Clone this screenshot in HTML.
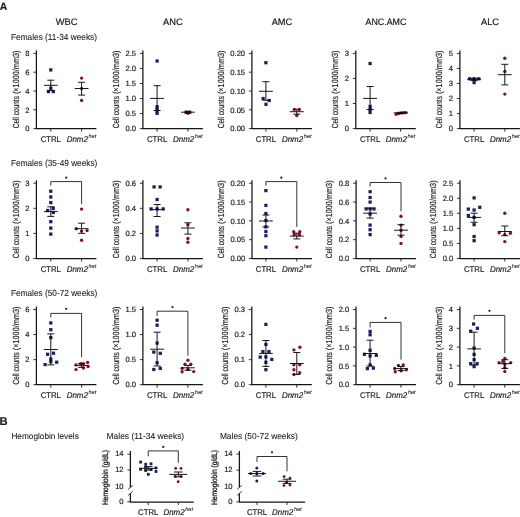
<!DOCTYPE html>
<html><head><meta charset="utf-8"><style>
html,body{margin:0;padding:0;background:#fff;}
svg{display:block;will-change:transform;filter:blur(0.3px);}
text{font-family:"Liberation Sans", sans-serif;text-rendering:geometricPrecision;stroke:#1c1c1c;stroke-width:0.18px;}
</style></head><body>
<svg width="520" height="517" viewBox="0 0 520 517" font-family='"Liberation Sans", sans-serif'>
<rect width="520" height="517" fill="#fff"/>
<text x="-0.3" y="9.6" font-size="10.4" text-anchor="start" font-weight="bold" fill="#1c1c1c">A</text>
<text x="-0.4" y="425.3" font-size="11.2" text-anchor="start" font-weight="bold" fill="#1c1c1c">B</text>
<text x="66.6" y="24.8" font-size="9.3" text-anchor="middle" fill="#1c1c1c">WBC</text>
<text x="172.9" y="24.8" font-size="9.3" text-anchor="middle" fill="#1c1c1c">ANC</text>
<text x="282.0" y="24.8" font-size="9.3" text-anchor="middle" fill="#1c1c1c">AMC</text>
<text x="385.9" y="24.8" font-size="9.3" text-anchor="middle" fill="#1c1c1c" textLength="40.8" lengthAdjust="spacingAndGlyphs">ANC.AMC</text>
<text x="490.0" y="24.8" font-size="9.3" text-anchor="middle" fill="#1c1c1c">ALC</text>
<text x="11" y="40.4" font-size="8.8" text-anchor="start" fill="#1c1c1c" textLength="86" lengthAdjust="spacingAndGlyphs" style="stroke-width:0.08px">Females (11-34 weeks)</text>
<text x="11" y="166.4" font-size="8.8" text-anchor="start" fill="#1c1c1c" textLength="86.3" lengthAdjust="spacingAndGlyphs" style="stroke-width:0.08px">Females (35-49 weeks)</text>
<text x="11" y="296.2" font-size="8.8" text-anchor="start" fill="#1c1c1c" textLength="86.3" lengthAdjust="spacingAndGlyphs" style="stroke-width:0.08px">Females (50-72 weeks)</text>
<text x="11.4" y="438.7" font-size="8.6" text-anchor="start" fill="#1c1c1c" textLength="67.4" lengthAdjust="spacingAndGlyphs" style="stroke-width:0.08px">Hemoglobin levels</text>
<text x="106.6" y="438.7" font-size="8.7" text-anchor="start" fill="#1c1c1c" textLength="77.6" lengthAdjust="spacingAndGlyphs" style="stroke-width:0.08px">Males (11-34 weeks)</text>
<text x="219.9" y="438.7" font-size="8.7" text-anchor="start" fill="#1c1c1c" textLength="77.8" lengthAdjust="spacingAndGlyphs" style="stroke-width:0.08px">Males (50-72 weeks)</text>
<path d="M36.4,50.5V128.6" stroke="#151515" stroke-width="1.25" fill="none"/>
<path d="M35.85,128.6H96.4" stroke="#151515" stroke-width="1.25" fill="none"/>
<path d="M33.4,128.60H36.4" stroke="#1c1c1c" stroke-width="0.9"/>
<text x="29.60" y="131.30" font-size="7.6" text-anchor="end" fill="#1c1c1c">0</text>
<path d="M33.4,109.80H36.4" stroke="#1c1c1c" stroke-width="0.9"/>
<text x="29.60" y="112.50" font-size="7.6" text-anchor="end" fill="#1c1c1c">2</text>
<path d="M33.4,91.00H36.4" stroke="#1c1c1c" stroke-width="0.9"/>
<text x="29.60" y="93.70" font-size="7.6" text-anchor="end" fill="#1c1c1c">4</text>
<path d="M33.4,72.20H36.4" stroke="#1c1c1c" stroke-width="0.9"/>
<text x="29.60" y="74.90" font-size="7.6" text-anchor="end" fill="#1c1c1c">6</text>
<path d="M33.4,53.40H36.4" stroke="#1c1c1c" stroke-width="0.9"/>
<text x="29.60" y="56.10" font-size="7.6" text-anchor="end" fill="#1c1c1c">8</text>
<path d="M50.8,128.6V131.6" stroke="#1c1c1c" stroke-width="0.9"/>
<path d="M81.6,128.6V131.6" stroke="#1c1c1c" stroke-width="0.9"/>
<g transform="translate(18.67,128.30) rotate(-90)" font-size="8.8" fill="#1c1c1c" style="stroke-width:0.3px"><text x="0" y="0" textLength="32.2" lengthAdjust="spacingAndGlyphs">Cell counts</text><text x="34.20" y="0" textLength="43.6" lengthAdjust="spacingAndGlyphs">(×1000/mm3)</text></g>
<text x="50.80" y="141.60" font-size="8.4" text-anchor="middle" textLength="20.2" lengthAdjust="spacingAndGlyphs" fill="#1c1c1c">CTRL</text>
<text x="66.70" y="141.60" font-size="8.4" font-style="italic" textLength="21.2" lengthAdjust="spacingAndGlyphs" fill="#1c1c1c">Dnm2</text>
<text x="88.50" y="137.90" font-size="5.6" font-style="italic" fill="#1c1c1c" style="stroke-width:0.05px">het</text>
<rect x="49.17" y="68.28" width="3.25" height="3.25" fill="#182060"/>
<rect x="49.17" y="86.58" width="3.25" height="3.25" fill="#182060"/>
<rect x="46.77" y="89.97" width="3.25" height="3.25" fill="#182060"/>
<rect x="51.67" y="89.97" width="3.25" height="3.25" fill="#182060"/>
<circle cx="81.6" cy="78.1" r="1.68" fill="#801427"/>
<circle cx="81.6" cy="88.5" r="1.68" fill="#801427"/>
<circle cx="81.6" cy="100.4" r="1.68" fill="#801427"/>
<path d="M43.9,85.3H57.699999999999996M47.3,80.2H54.3M47.3,90.4H54.3M50.8,80.2V90.4" stroke="#0c0c0c" stroke-width="0.95" fill="none"/>
<path d="M74.69999999999999,88.5H88.5M78.1,82.3H85.1M78.1,95.1H85.1M81.6,82.3V95.1" stroke="#0c0c0c" stroke-width="0.95" fill="none"/>
<path d="M142.9,50.5V128.6" stroke="#151515" stroke-width="1.25" fill="none"/>
<path d="M142.35,128.6H202.9" stroke="#151515" stroke-width="1.25" fill="none"/>
<path d="M139.9,128.60H142.9" stroke="#1c1c1c" stroke-width="0.9"/>
<text x="136.10" y="131.30" font-size="7.6" text-anchor="end" fill="#1c1c1c">0.0</text>
<path d="M139.9,113.56H142.9" stroke="#1c1c1c" stroke-width="0.9"/>
<text x="136.10" y="116.26" font-size="7.6" text-anchor="end" fill="#1c1c1c">0.5</text>
<path d="M139.9,98.52H142.9" stroke="#1c1c1c" stroke-width="0.9"/>
<text x="136.10" y="101.22" font-size="7.6" text-anchor="end" fill="#1c1c1c">1.0</text>
<path d="M139.9,83.48H142.9" stroke="#1c1c1c" stroke-width="0.9"/>
<text x="136.10" y="86.18" font-size="7.6" text-anchor="end" fill="#1c1c1c">1.5</text>
<path d="M139.9,68.44H142.9" stroke="#1c1c1c" stroke-width="0.9"/>
<text x="136.10" y="71.14" font-size="7.6" text-anchor="end" fill="#1c1c1c">2.0</text>
<path d="M139.9,53.40H142.9" stroke="#1c1c1c" stroke-width="0.9"/>
<text x="136.10" y="56.10" font-size="7.6" text-anchor="end" fill="#1c1c1c">2.5</text>
<path d="M157.1,128.6V131.6" stroke="#1c1c1c" stroke-width="0.9"/>
<path d="M187.9,128.6V131.6" stroke="#1c1c1c" stroke-width="0.9"/>
<g transform="translate(118.84,128.30) rotate(-90)" font-size="8.8" fill="#1c1c1c" style="stroke-width:0.3px"><text x="0" y="0" textLength="32.2" lengthAdjust="spacingAndGlyphs">Cell counts</text><text x="34.20" y="0" textLength="43.6" lengthAdjust="spacingAndGlyphs">(×1000/mm3)</text></g>
<text x="157.10" y="141.60" font-size="8.4" text-anchor="middle" textLength="20.2" lengthAdjust="spacingAndGlyphs" fill="#1c1c1c">CTRL</text>
<text x="173.00" y="141.60" font-size="8.4" font-style="italic" textLength="21.2" lengthAdjust="spacingAndGlyphs" fill="#1c1c1c">Dnm2</text>
<text x="194.80" y="137.90" font-size="5.6" font-style="italic" fill="#1c1c1c" style="stroke-width:0.05px">het</text>
<rect x="155.47" y="59.38" width="3.25" height="3.25" fill="#182060"/>
<rect x="155.47" y="105.08" width="3.25" height="3.25" fill="#182060"/>
<rect x="155.47" y="107.58" width="3.25" height="3.25" fill="#182060"/>
<rect x="155.47" y="109.67" width="3.25" height="3.25" fill="#182060"/>
<rect x="155.47" y="111.67" width="3.25" height="3.25" fill="#182060"/>
<circle cx="186.2" cy="112.2" r="1.68" fill="#801427"/>
<circle cx="189.4" cy="112.2" r="1.68" fill="#801427"/>
<circle cx="187.9" cy="113.2" r="1.68" fill="#801427"/>
<path d="M150.2,98.4H164.0M153.6,85.7H160.6M153.6,110.5H160.6M157.1,85.7V110.5" stroke="#0c0c0c" stroke-width="0.95" fill="none"/>
<path d="M181.0,112.2H194.8M184.4,111.2H191.4M184.4,113.2H191.4M187.9,111.2V113.2" stroke="#0c0c0c" stroke-width="0.95" fill="none"/>
<path d="M251.9,50.5V128.6" stroke="#151515" stroke-width="1.25" fill="none"/>
<path d="M251.35,128.6H311.9" stroke="#151515" stroke-width="1.25" fill="none"/>
<path d="M248.9,128.60H251.9" stroke="#1c1c1c" stroke-width="0.9"/>
<text x="245.10" y="131.30" font-size="7.6" text-anchor="end" fill="#1c1c1c">0.00</text>
<path d="M248.9,109.80H251.9" stroke="#1c1c1c" stroke-width="0.9"/>
<text x="245.10" y="112.50" font-size="7.6" text-anchor="end" fill="#1c1c1c">0.05</text>
<path d="M248.9,91.00H251.9" stroke="#1c1c1c" stroke-width="0.9"/>
<text x="245.10" y="93.70" font-size="7.6" text-anchor="end" fill="#1c1c1c">0.10</text>
<path d="M248.9,72.20H251.9" stroke="#1c1c1c" stroke-width="0.9"/>
<text x="245.10" y="74.90" font-size="7.6" text-anchor="end" fill="#1c1c1c">0.15</text>
<path d="M248.9,53.40H251.9" stroke="#1c1c1c" stroke-width="0.9"/>
<text x="245.10" y="56.10" font-size="7.6" text-anchor="end" fill="#1c1c1c">0.20</text>
<path d="M265.9,128.6V131.6" stroke="#1c1c1c" stroke-width="0.9"/>
<path d="M296.8,128.6V131.6" stroke="#1c1c1c" stroke-width="0.9"/>
<g transform="translate(223.61,128.30) rotate(-90)" font-size="8.8" fill="#1c1c1c" style="stroke-width:0.3px"><text x="0" y="0" textLength="32.2" lengthAdjust="spacingAndGlyphs">Cell counts</text><text x="34.20" y="0" textLength="43.6" lengthAdjust="spacingAndGlyphs">(×1000/mm3)</text></g>
<text x="265.90" y="141.60" font-size="8.4" text-anchor="middle" textLength="20.2" lengthAdjust="spacingAndGlyphs" fill="#1c1c1c">CTRL</text>
<text x="281.90" y="141.60" font-size="8.4" font-style="italic" textLength="21.2" lengthAdjust="spacingAndGlyphs" fill="#1c1c1c">Dnm2</text>
<text x="303.70" y="137.90" font-size="5.6" font-style="italic" fill="#1c1c1c" style="stroke-width:0.05px">het</text>
<rect x="264.27" y="61.08" width="3.25" height="3.25" fill="#182060"/>
<rect x="261.48" y="96.88" width="3.25" height="3.25" fill="#182060"/>
<rect x="267.57" y="98.88" width="3.25" height="3.25" fill="#182060"/>
<rect x="264.38" y="102.67" width="3.25" height="3.25" fill="#182060"/>
<circle cx="294.3" cy="109.5" r="1.68" fill="#801427"/>
<circle cx="299.3" cy="109.5" r="1.68" fill="#801427"/>
<circle cx="296.8" cy="115.5" r="1.68" fill="#801427"/>
<path d="M259.0,91.3H272.79999999999995M262.4,81.7H269.4M262.4,100.2H269.4M265.9,81.7V100.2" stroke="#0c0c0c" stroke-width="0.95" fill="none"/>
<path d="M289.90000000000003,111.7H303.7M293.3,109.3H300.3M293.3,114.2H300.3M296.8,109.3V114.2" stroke="#0c0c0c" stroke-width="0.95" fill="none"/>
<path d="M355.8,50.5V128.6" stroke="#151515" stroke-width="1.25" fill="none"/>
<path d="M355.25,128.6H415.8" stroke="#151515" stroke-width="1.25" fill="none"/>
<path d="M352.8,128.60H355.8" stroke="#1c1c1c" stroke-width="0.9"/>
<text x="349.00" y="131.30" font-size="7.6" text-anchor="end" fill="#1c1c1c">0</text>
<path d="M352.8,103.53H355.8" stroke="#1c1c1c" stroke-width="0.9"/>
<text x="349.00" y="106.23" font-size="7.6" text-anchor="end" fill="#1c1c1c">1</text>
<path d="M352.8,78.47H355.8" stroke="#1c1c1c" stroke-width="0.9"/>
<text x="349.00" y="81.17" font-size="7.6" text-anchor="end" fill="#1c1c1c">2</text>
<path d="M352.8,53.40H355.8" stroke="#1c1c1c" stroke-width="0.9"/>
<text x="349.00" y="56.10" font-size="7.6" text-anchor="end" fill="#1c1c1c">3</text>
<path d="M370.1,128.6V131.6" stroke="#1c1c1c" stroke-width="0.9"/>
<path d="M400.6,128.6V131.6" stroke="#1c1c1c" stroke-width="0.9"/>
<g transform="translate(338.07,128.30) rotate(-90)" font-size="8.8" fill="#1c1c1c" style="stroke-width:0.3px"><text x="0" y="0" textLength="32.2" lengthAdjust="spacingAndGlyphs">Cell counts</text><text x="34.20" y="0" textLength="43.6" lengthAdjust="spacingAndGlyphs">(×1000/mm3)</text></g>
<text x="370.10" y="141.60" font-size="8.4" text-anchor="middle" textLength="20.2" lengthAdjust="spacingAndGlyphs" fill="#1c1c1c">CTRL</text>
<text x="385.70" y="141.60" font-size="8.4" font-style="italic" textLength="21.2" lengthAdjust="spacingAndGlyphs" fill="#1c1c1c">Dnm2</text>
<text x="407.50" y="137.90" font-size="5.6" font-style="italic" fill="#1c1c1c" style="stroke-width:0.05px">het</text>
<rect x="368.48" y="61.88" width="3.25" height="3.25" fill="#182060"/>
<rect x="368.48" y="104.78" width="3.25" height="3.25" fill="#182060"/>
<rect x="368.48" y="107.88" width="3.25" height="3.25" fill="#182060"/>
<rect x="368.48" y="110.88" width="3.25" height="3.25" fill="#182060"/>
<circle cx="396.2" cy="114.3" r="1.68" fill="#801427"/>
<circle cx="398.8" cy="113.6" r="1.68" fill="#801427"/>
<circle cx="401.4" cy="113.0" r="1.68" fill="#801427"/>
<circle cx="404.0" cy="112.7" r="1.68" fill="#801427"/>
<circle cx="406.0" cy="112.6" r="1.68" fill="#801427"/>
<path d="M363.20000000000005,98.4H377.0M366.6,86.5H373.6M366.6,109.5H373.6M370.1,86.5V109.5" stroke="#0c0c0c" stroke-width="0.95" fill="none"/>
<path d="M393.70000000000005,112.9H407.5M397.1,112.3H404.1M397.1,113.5H404.1M400.6,112.3V113.5" stroke="#0c0c0c" stroke-width="0.95" fill="none"/>
<path d="M459.9,50.5V128.6" stroke="#151515" stroke-width="1.25" fill="none"/>
<path d="M459.34999999999997,128.6H519.9" stroke="#151515" stroke-width="1.25" fill="none"/>
<path d="M456.9,128.60H459.9" stroke="#1c1c1c" stroke-width="0.9"/>
<text x="453.10" y="131.30" font-size="7.6" text-anchor="end" fill="#1c1c1c">0</text>
<path d="M456.9,113.56H459.9" stroke="#1c1c1c" stroke-width="0.9"/>
<text x="453.10" y="116.26" font-size="7.6" text-anchor="end" fill="#1c1c1c">1</text>
<path d="M456.9,98.52H459.9" stroke="#1c1c1c" stroke-width="0.9"/>
<text x="453.10" y="101.22" font-size="7.6" text-anchor="end" fill="#1c1c1c">2</text>
<path d="M456.9,83.48H459.9" stroke="#1c1c1c" stroke-width="0.9"/>
<text x="453.10" y="86.18" font-size="7.6" text-anchor="end" fill="#1c1c1c">3</text>
<path d="M456.9,68.44H459.9" stroke="#1c1c1c" stroke-width="0.9"/>
<text x="453.10" y="71.14" font-size="7.6" text-anchor="end" fill="#1c1c1c">4</text>
<path d="M456.9,53.40H459.9" stroke="#1c1c1c" stroke-width="0.9"/>
<text x="453.10" y="56.10" font-size="7.6" text-anchor="end" fill="#1c1c1c">5</text>
<path d="M474.1,128.6V131.6" stroke="#1c1c1c" stroke-width="0.9"/>
<path d="M504.8,128.6V131.6" stroke="#1c1c1c" stroke-width="0.9"/>
<g transform="translate(442.17,128.30) rotate(-90)" font-size="8.8" fill="#1c1c1c" style="stroke-width:0.3px"><text x="0" y="0" textLength="32.2" lengthAdjust="spacingAndGlyphs">Cell counts</text><text x="34.20" y="0" textLength="43.6" lengthAdjust="spacingAndGlyphs">(×1000/mm3)</text></g>
<text x="474.10" y="141.60" font-size="8.4" text-anchor="middle" textLength="20.2" lengthAdjust="spacingAndGlyphs" fill="#1c1c1c">CTRL</text>
<text x="489.90" y="141.60" font-size="8.4" font-style="italic" textLength="21.2" lengthAdjust="spacingAndGlyphs" fill="#1c1c1c">Dnm2</text>
<text x="511.70" y="137.90" font-size="5.6" font-style="italic" fill="#1c1c1c" style="stroke-width:0.05px">het</text>
<rect x="467.98" y="77.17" width="3.25" height="3.25" fill="#182060"/>
<rect x="472.48" y="77.17" width="3.25" height="3.25" fill="#182060"/>
<rect x="477.18" y="77.17" width="3.25" height="3.25" fill="#182060"/>
<rect x="472.48" y="80.97" width="3.25" height="3.25" fill="#182060"/>
<circle cx="504.8" cy="58.2" r="1.68" fill="#801427"/>
<circle cx="504.8" cy="71.4" r="1.68" fill="#801427"/>
<circle cx="504.8" cy="94.1" r="1.68" fill="#801427"/>
<path d="M467.20000000000005,79.4H481.0M470.6,78.4H477.6M470.6,80.6H477.6M474.1,78.4V80.6" stroke="#0c0c0c" stroke-width="0.95" fill="none"/>
<path d="M497.90000000000003,74.7H511.7M501.3,64.3H508.3M501.3,84.9H508.3M504.8,64.3V84.9" stroke="#0c0c0c" stroke-width="0.95" fill="none"/>
<path d="M36.4,180.29999999999998V258.5" stroke="#151515" stroke-width="1.25" fill="none"/>
<path d="M35.85,258.5H96.4" stroke="#151515" stroke-width="1.25" fill="none"/>
<path d="M33.4,258.50H36.4" stroke="#1c1c1c" stroke-width="0.9"/>
<text x="29.60" y="261.20" font-size="7.6" text-anchor="end" fill="#1c1c1c">0</text>
<path d="M33.4,233.40H36.4" stroke="#1c1c1c" stroke-width="0.9"/>
<text x="29.60" y="236.10" font-size="7.6" text-anchor="end" fill="#1c1c1c">1</text>
<path d="M33.4,208.30H36.4" stroke="#1c1c1c" stroke-width="0.9"/>
<text x="29.60" y="211.00" font-size="7.6" text-anchor="end" fill="#1c1c1c">2</text>
<path d="M33.4,183.20H36.4" stroke="#1c1c1c" stroke-width="0.9"/>
<text x="29.60" y="185.90" font-size="7.6" text-anchor="end" fill="#1c1c1c">3</text>
<path d="M50.8,258.5V261.5" stroke="#1c1c1c" stroke-width="0.9"/>
<path d="M81.6,258.5V261.5" stroke="#1c1c1c" stroke-width="0.9"/>
<g transform="translate(18.67,258.20) rotate(-90)" font-size="8.8" fill="#1c1c1c" style="stroke-width:0.3px"><text x="0" y="0" textLength="32.2" lengthAdjust="spacingAndGlyphs">Cell counts</text><text x="34.20" y="0" textLength="43.6" lengthAdjust="spacingAndGlyphs">(×1000/mm3)</text></g>
<text x="50.80" y="271.50" font-size="8.4" text-anchor="middle" textLength="20.2" lengthAdjust="spacingAndGlyphs" fill="#1c1c1c">CTRL</text>
<text x="66.70" y="271.50" font-size="8.4" font-style="italic" textLength="21.2" lengthAdjust="spacingAndGlyphs" fill="#1c1c1c">Dnm2</text>
<text x="88.50" y="267.80" font-size="5.6" font-style="italic" fill="#1c1c1c" style="stroke-width:0.05px">het</text>
<rect x="49.17" y="189.57" width="3.25" height="3.25" fill="#182060"/>
<rect x="49.17" y="195.38" width="3.25" height="3.25" fill="#182060"/>
<rect x="49.17" y="200.97" width="3.25" height="3.25" fill="#182060"/>
<rect x="51.67" y="206.78" width="3.25" height="3.25" fill="#182060"/>
<rect x="45.98" y="208.88" width="3.25" height="3.25" fill="#182060"/>
<rect x="51.67" y="210.88" width="3.25" height="3.25" fill="#182060"/>
<rect x="49.17" y="220.07" width="3.25" height="3.25" fill="#182060"/>
<rect x="49.17" y="226.47" width="3.25" height="3.25" fill="#182060"/>
<rect x="49.17" y="232.47" width="3.25" height="3.25" fill="#182060"/>
<circle cx="81.6" cy="209.1" r="1.68" fill="#801427"/>
<circle cx="76.3" cy="228.7" r="1.68" fill="#801427"/>
<circle cx="81.6" cy="231.1" r="1.68" fill="#801427"/>
<circle cx="87.1" cy="230.6" r="1.68" fill="#801427"/>
<circle cx="81.6" cy="240.3" r="1.68" fill="#801427"/>
<path d="M43.9,211.6H57.699999999999996M47.3,206.8H54.3M47.3,216.4H54.3M50.8,206.8V216.4" stroke="#0c0c0c" stroke-width="0.95" fill="none"/>
<path d="M74.69999999999999,228.7H88.5M78.1,223.2H85.1M78.1,233.3H85.1M81.6,223.2V233.3" stroke="#0c0c0c" stroke-width="0.95" fill="none"/>
<path d="M50.8,185.6V181.6H81.6V204.0" stroke="#1c1c1c" stroke-width="0.9" fill="none"/>
<circle cx="66.20" cy="177.70" r="1.1" fill="#1c1c1c"/>
<path d="M142.9,180.29999999999998V258.5" stroke="#151515" stroke-width="1.25" fill="none"/>
<path d="M142.35,258.5H202.9" stroke="#151515" stroke-width="1.25" fill="none"/>
<path d="M139.9,258.50H142.9" stroke="#1c1c1c" stroke-width="0.9"/>
<text x="136.10" y="261.20" font-size="7.6" text-anchor="end" fill="#1c1c1c">0.0</text>
<path d="M139.9,233.40H142.9" stroke="#1c1c1c" stroke-width="0.9"/>
<text x="136.10" y="236.10" font-size="7.6" text-anchor="end" fill="#1c1c1c">0.2</text>
<path d="M139.9,208.30H142.9" stroke="#1c1c1c" stroke-width="0.9"/>
<text x="136.10" y="211.00" font-size="7.6" text-anchor="end" fill="#1c1c1c">0.4</text>
<path d="M139.9,183.20H142.9" stroke="#1c1c1c" stroke-width="0.9"/>
<text x="136.10" y="185.90" font-size="7.6" text-anchor="end" fill="#1c1c1c">0.6</text>
<path d="M157.1,258.5V261.5" stroke="#1c1c1c" stroke-width="0.9"/>
<path d="M187.9,258.5V261.5" stroke="#1c1c1c" stroke-width="0.9"/>
<g transform="translate(118.84,258.20) rotate(-90)" font-size="8.8" fill="#1c1c1c" style="stroke-width:0.3px"><text x="0" y="0" textLength="32.2" lengthAdjust="spacingAndGlyphs">Cell counts</text><text x="34.20" y="0" textLength="43.6" lengthAdjust="spacingAndGlyphs">(×1000/mm3)</text></g>
<text x="157.10" y="271.50" font-size="8.4" text-anchor="middle" textLength="20.2" lengthAdjust="spacingAndGlyphs" fill="#1c1c1c">CTRL</text>
<text x="173.00" y="271.50" font-size="8.4" font-style="italic" textLength="21.2" lengthAdjust="spacingAndGlyphs" fill="#1c1c1c">Dnm2</text>
<text x="194.80" y="267.80" font-size="5.6" font-style="italic" fill="#1c1c1c" style="stroke-width:0.05px">het</text>
<rect x="152.47" y="185.28" width="3.25" height="3.25" fill="#182060"/>
<rect x="158.47" y="185.28" width="3.25" height="3.25" fill="#182060"/>
<rect x="155.47" y="197.88" width="3.25" height="3.25" fill="#182060"/>
<rect x="149.47" y="207.28" width="3.25" height="3.25" fill="#182060"/>
<rect x="155.47" y="207.28" width="3.25" height="3.25" fill="#182060"/>
<rect x="161.57" y="207.28" width="3.25" height="3.25" fill="#182060"/>
<rect x="155.47" y="225.57" width="3.25" height="3.25" fill="#182060"/>
<rect x="155.47" y="229.28" width="3.25" height="3.25" fill="#182060"/>
<rect x="155.47" y="233.38" width="3.25" height="3.25" fill="#182060"/>
<circle cx="187.9" cy="209.8" r="1.68" fill="#801427"/>
<circle cx="187.9" cy="224.7" r="1.68" fill="#801427"/>
<circle cx="187.9" cy="238.5" r="1.68" fill="#801427"/>
<circle cx="187.9" cy="242.3" r="1.68" fill="#801427"/>
<path d="M150.2,209.6H164.0M153.6,204.5H160.6M153.6,216.5H160.6M157.1,204.5V216.5" stroke="#0c0c0c" stroke-width="0.95" fill="none"/>
<path d="M181.0,228H194.8M184.4,222.8H191.4M184.4,234.1H191.4M187.9,222.8V234.1" stroke="#0c0c0c" stroke-width="0.95" fill="none"/>
<path d="M252.0,180.29999999999998V258.5" stroke="#151515" stroke-width="1.25" fill="none"/>
<path d="M251.45,258.5H312.0" stroke="#151515" stroke-width="1.25" fill="none"/>
<path d="M249.0,258.50H252.0" stroke="#1c1c1c" stroke-width="0.9"/>
<text x="245.20" y="261.20" font-size="7.6" text-anchor="end" fill="#1c1c1c">0.00</text>
<path d="M249.0,239.68H252.0" stroke="#1c1c1c" stroke-width="0.9"/>
<text x="245.20" y="242.38" font-size="7.6" text-anchor="end" fill="#1c1c1c">0.05</text>
<path d="M249.0,220.85H252.0" stroke="#1c1c1c" stroke-width="0.9"/>
<text x="245.20" y="223.55" font-size="7.6" text-anchor="end" fill="#1c1c1c">0.10</text>
<path d="M249.0,202.02H252.0" stroke="#1c1c1c" stroke-width="0.9"/>
<text x="245.20" y="204.72" font-size="7.6" text-anchor="end" fill="#1c1c1c">0.15</text>
<path d="M249.0,183.20H252.0" stroke="#1c1c1c" stroke-width="0.9"/>
<text x="245.20" y="185.90" font-size="7.6" text-anchor="end" fill="#1c1c1c">0.20</text>
<path d="M265.9,258.5V261.5" stroke="#1c1c1c" stroke-width="0.9"/>
<path d="M296.8,258.5V261.5" stroke="#1c1c1c" stroke-width="0.9"/>
<g transform="translate(223.71,258.20) rotate(-90)" font-size="8.8" fill="#1c1c1c" style="stroke-width:0.3px"><text x="0" y="0" textLength="32.2" lengthAdjust="spacingAndGlyphs">Cell counts</text><text x="34.20" y="0" textLength="43.6" lengthAdjust="spacingAndGlyphs">(×1000/mm3)</text></g>
<text x="265.90" y="271.50" font-size="8.4" text-anchor="middle" textLength="20.2" lengthAdjust="spacingAndGlyphs" fill="#1c1c1c">CTRL</text>
<text x="281.90" y="271.50" font-size="8.4" font-style="italic" textLength="21.2" lengthAdjust="spacingAndGlyphs" fill="#1c1c1c">Dnm2</text>
<text x="303.70" y="267.80" font-size="5.6" font-style="italic" fill="#1c1c1c" style="stroke-width:0.05px">het</text>
<rect x="264.27" y="188.97" width="3.25" height="3.25" fill="#182060"/>
<rect x="264.27" y="203.78" width="3.25" height="3.25" fill="#182060"/>
<rect x="264.27" y="211.88" width="3.25" height="3.25" fill="#182060"/>
<rect x="264.27" y="218.88" width="3.25" height="3.25" fill="#182060"/>
<rect x="264.27" y="225.28" width="3.25" height="3.25" fill="#182060"/>
<rect x="264.27" y="229.88" width="3.25" height="3.25" fill="#182060"/>
<rect x="264.27" y="234.07" width="3.25" height="3.25" fill="#182060"/>
<rect x="264.27" y="245.47" width="3.25" height="3.25" fill="#182060"/>
<circle cx="293.7" cy="231.8" r="1.68" fill="#801427"/>
<circle cx="299.8" cy="231.8" r="1.68" fill="#801427"/>
<circle cx="294.2" cy="234.8" r="1.68" fill="#801427"/>
<circle cx="299.4" cy="234.8" r="1.68" fill="#801427"/>
<circle cx="296.8" cy="247.1" r="1.68" fill="#801427"/>
<path d="M259.0,221H272.79999999999995M262.4,215H269.4M262.4,226.9H269.4M265.9,215V226.9" stroke="#0c0c0c" stroke-width="0.95" fill="none"/>
<path d="M289.90000000000003,236.1H303.7M293.3,233.2H300.3M293.3,238.9H300.3M296.8,233.2V238.9" stroke="#0c0c0c" stroke-width="0.95" fill="none"/>
<path d="M265.9,185.6V181.6H296.8V226.9" stroke="#1c1c1c" stroke-width="0.9" fill="none"/>
<circle cx="281.35" cy="177.70" r="1.1" fill="#1c1c1c"/>
<path d="M356.1,180.29999999999998V258.5" stroke="#151515" stroke-width="1.25" fill="none"/>
<path d="M355.55,258.5H416.1" stroke="#151515" stroke-width="1.25" fill="none"/>
<path d="M353.1,258.50H356.1" stroke="#1c1c1c" stroke-width="0.9"/>
<text x="349.30" y="261.20" font-size="7.6" text-anchor="end" fill="#1c1c1c">0.0</text>
<path d="M353.1,239.68H356.1" stroke="#1c1c1c" stroke-width="0.9"/>
<text x="349.30" y="242.38" font-size="7.6" text-anchor="end" fill="#1c1c1c">0.2</text>
<path d="M353.1,220.85H356.1" stroke="#1c1c1c" stroke-width="0.9"/>
<text x="349.30" y="223.55" font-size="7.6" text-anchor="end" fill="#1c1c1c">0.4</text>
<path d="M353.1,202.02H356.1" stroke="#1c1c1c" stroke-width="0.9"/>
<text x="349.30" y="204.72" font-size="7.6" text-anchor="end" fill="#1c1c1c">0.6</text>
<path d="M353.1,183.20H356.1" stroke="#1c1c1c" stroke-width="0.9"/>
<text x="349.30" y="185.90" font-size="7.6" text-anchor="end" fill="#1c1c1c">0.8</text>
<path d="M370.1,258.5V261.5" stroke="#1c1c1c" stroke-width="0.9"/>
<path d="M401.0,258.5V261.5" stroke="#1c1c1c" stroke-width="0.9"/>
<g transform="translate(332.04,258.20) rotate(-90)" font-size="8.8" fill="#1c1c1c" style="stroke-width:0.3px"><text x="0" y="0" textLength="32.2" lengthAdjust="spacingAndGlyphs">Cell counts</text><text x="34.20" y="0" textLength="43.6" lengthAdjust="spacingAndGlyphs">(×1000/mm3)</text></g>
<text x="370.10" y="271.50" font-size="8.4" text-anchor="middle" textLength="20.2" lengthAdjust="spacingAndGlyphs" fill="#1c1c1c">CTRL</text>
<text x="386.10" y="271.50" font-size="8.4" font-style="italic" textLength="21.2" lengthAdjust="spacingAndGlyphs" fill="#1c1c1c">Dnm2</text>
<text x="407.90" y="267.80" font-size="5.6" font-style="italic" fill="#1c1c1c" style="stroke-width:0.05px">het</text>
<rect x="368.48" y="190.07" width="3.25" height="3.25" fill="#182060"/>
<rect x="368.48" y="195.88" width="3.25" height="3.25" fill="#182060"/>
<rect x="368.48" y="200.47" width="3.25" height="3.25" fill="#182060"/>
<rect x="364.48" y="207.28" width="3.25" height="3.25" fill="#182060"/>
<rect x="368.48" y="207.28" width="3.25" height="3.25" fill="#182060"/>
<rect x="372.38" y="207.28" width="3.25" height="3.25" fill="#182060"/>
<rect x="368.48" y="212.38" width="3.25" height="3.25" fill="#182060"/>
<rect x="368.48" y="223.47" width="3.25" height="3.25" fill="#182060"/>
<rect x="368.48" y="228.07" width="3.25" height="3.25" fill="#182060"/>
<rect x="368.48" y="232.97" width="3.25" height="3.25" fill="#182060"/>
<circle cx="401" cy="216.3" r="1.68" fill="#801427"/>
<circle cx="401" cy="225.1" r="1.68" fill="#801427"/>
<circle cx="401" cy="230.2" r="1.68" fill="#801427"/>
<circle cx="401" cy="236.5" r="1.68" fill="#801427"/>
<circle cx="401" cy="243.4" r="1.68" fill="#801427"/>
<path d="M363.20000000000005,213.2H377.0M366.6,208.2H373.6M366.6,218.1H373.6M370.1,208.2V218.1" stroke="#0c0c0c" stroke-width="0.95" fill="none"/>
<path d="M394.1,230.2H407.9M397.5,224.7H404.5M397.5,235.2H404.5M401.0,224.7V235.2" stroke="#0c0c0c" stroke-width="0.95" fill="none"/>
<path d="M370.1,186.5V182.5H401.0V211.3" stroke="#1c1c1c" stroke-width="0.9" fill="none"/>
<circle cx="385.55" cy="178.30" r="1.1" fill="#1c1c1c"/>
<path d="M460.0,180.29999999999998V258.5" stroke="#151515" stroke-width="1.25" fill="none"/>
<path d="M459.45,258.5H520.0" stroke="#151515" stroke-width="1.25" fill="none"/>
<path d="M457.0,258.50H460.0" stroke="#1c1c1c" stroke-width="0.9"/>
<text x="453.20" y="261.20" font-size="7.6" text-anchor="end" fill="#1c1c1c">0.0</text>
<path d="M457.0,243.44H460.0" stroke="#1c1c1c" stroke-width="0.9"/>
<text x="453.20" y="246.14" font-size="7.6" text-anchor="end" fill="#1c1c1c">0.5</text>
<path d="M457.0,228.38H460.0" stroke="#1c1c1c" stroke-width="0.9"/>
<text x="453.20" y="231.08" font-size="7.6" text-anchor="end" fill="#1c1c1c">1.0</text>
<path d="M457.0,213.32H460.0" stroke="#1c1c1c" stroke-width="0.9"/>
<text x="453.20" y="216.02" font-size="7.6" text-anchor="end" fill="#1c1c1c">1.5</text>
<path d="M457.0,198.26H460.0" stroke="#1c1c1c" stroke-width="0.9"/>
<text x="453.20" y="200.96" font-size="7.6" text-anchor="end" fill="#1c1c1c">2.0</text>
<path d="M457.0,183.20H460.0" stroke="#1c1c1c" stroke-width="0.9"/>
<text x="453.20" y="185.90" font-size="7.6" text-anchor="end" fill="#1c1c1c">2.5</text>
<path d="M474.1,258.5V261.5" stroke="#1c1c1c" stroke-width="0.9"/>
<path d="M504.8,258.5V261.5" stroke="#1c1c1c" stroke-width="0.9"/>
<g transform="translate(435.94,258.20) rotate(-90)" font-size="8.8" fill="#1c1c1c" style="stroke-width:0.3px"><text x="0" y="0" textLength="32.2" lengthAdjust="spacingAndGlyphs">Cell counts</text><text x="34.20" y="0" textLength="43.6" lengthAdjust="spacingAndGlyphs">(×1000/mm3)</text></g>
<text x="474.10" y="271.50" font-size="8.4" text-anchor="middle" textLength="20.2" lengthAdjust="spacingAndGlyphs" fill="#1c1c1c">CTRL</text>
<text x="489.90" y="271.50" font-size="8.4" font-style="italic" textLength="21.2" lengthAdjust="spacingAndGlyphs" fill="#1c1c1c">Dnm2</text>
<text x="511.70" y="267.80" font-size="5.6" font-style="italic" fill="#1c1c1c" style="stroke-width:0.05px">het</text>
<rect x="472.48" y="196.28" width="3.25" height="3.25" fill="#182060"/>
<rect x="478.18" y="205.68" width="3.25" height="3.25" fill="#182060"/>
<rect x="466.68" y="207.47" width="3.25" height="3.25" fill="#182060"/>
<rect x="472.48" y="208.38" width="3.25" height="3.25" fill="#182060"/>
<rect x="466.68" y="213.88" width="3.25" height="3.25" fill="#182060"/>
<rect x="472.48" y="215.78" width="3.25" height="3.25" fill="#182060"/>
<rect x="472.48" y="223.07" width="3.25" height="3.25" fill="#182060"/>
<rect x="472.48" y="234.88" width="3.25" height="3.25" fill="#182060"/>
<rect x="472.48" y="239.07" width="3.25" height="3.25" fill="#182060"/>
<circle cx="504.8" cy="213.2" r="1.68" fill="#801427"/>
<circle cx="499.2" cy="232.8" r="1.68" fill="#801427"/>
<circle cx="504.8" cy="234.6" r="1.68" fill="#801427"/>
<circle cx="510.4" cy="233.3" r="1.68" fill="#801427"/>
<circle cx="504.8" cy="241.6" r="1.68" fill="#801427"/>
<path d="M467.20000000000005,217.4H481.0M470.6,213.2H477.6M470.6,222.3H477.6M474.1,213.2V222.3" stroke="#0c0c0c" stroke-width="0.95" fill="none"/>
<path d="M497.90000000000003,231.5H511.7M501.3,226H508.3M501.3,235.7H508.3M504.8,226V235.7" stroke="#0c0c0c" stroke-width="0.95" fill="none"/>
<path d="M36.4,306.6V384.7" stroke="#151515" stroke-width="1.25" fill="none"/>
<path d="M35.85,384.7H96.4" stroke="#151515" stroke-width="1.25" fill="none"/>
<path d="M33.4,384.70H36.4" stroke="#1c1c1c" stroke-width="0.9"/>
<text x="29.60" y="387.40" font-size="7.6" text-anchor="end" fill="#1c1c1c">0</text>
<path d="M33.4,359.63H36.4" stroke="#1c1c1c" stroke-width="0.9"/>
<text x="29.60" y="362.33" font-size="7.6" text-anchor="end" fill="#1c1c1c">2</text>
<path d="M33.4,334.57H36.4" stroke="#1c1c1c" stroke-width="0.9"/>
<text x="29.60" y="337.27" font-size="7.6" text-anchor="end" fill="#1c1c1c">4</text>
<path d="M33.4,309.50H36.4" stroke="#1c1c1c" stroke-width="0.9"/>
<text x="29.60" y="312.20" font-size="7.6" text-anchor="end" fill="#1c1c1c">6</text>
<path d="M50.8,384.7V387.7" stroke="#1c1c1c" stroke-width="0.9"/>
<path d="M81.6,384.7V387.7" stroke="#1c1c1c" stroke-width="0.9"/>
<g transform="translate(18.67,384.40) rotate(-90)" font-size="8.8" fill="#1c1c1c" style="stroke-width:0.3px"><text x="0" y="0" textLength="32.2" lengthAdjust="spacingAndGlyphs">Cell counts</text><text x="34.20" y="0" textLength="43.6" lengthAdjust="spacingAndGlyphs">(×1000/mm3)</text></g>
<text x="50.80" y="397.70" font-size="8.4" text-anchor="middle" textLength="20.2" lengthAdjust="spacingAndGlyphs" fill="#1c1c1c">CTRL</text>
<text x="66.70" y="397.70" font-size="8.4" font-style="italic" textLength="21.2" lengthAdjust="spacingAndGlyphs" fill="#1c1c1c">Dnm2</text>
<text x="88.50" y="394.00" font-size="5.6" font-style="italic" fill="#1c1c1c" style="stroke-width:0.05px">het</text>
<rect x="49.17" y="321.27" width="3.25" height="3.25" fill="#182060"/>
<rect x="49.17" y="328.07" width="3.25" height="3.25" fill="#182060"/>
<rect x="49.17" y="335.98" width="3.25" height="3.25" fill="#182060"/>
<rect x="45.98" y="352.68" width="3.25" height="3.25" fill="#182060"/>
<rect x="51.88" y="351.57" width="3.25" height="3.25" fill="#182060"/>
<rect x="49.17" y="357.38" width="3.25" height="3.25" fill="#182060"/>
<rect x="49.17" y="360.07" width="3.25" height="3.25" fill="#182060"/>
<rect x="55.08" y="360.57" width="3.25" height="3.25" fill="#182060"/>
<rect x="43.48" y="362.98" width="3.25" height="3.25" fill="#182060"/>
<circle cx="76" cy="364.9" r="1.68" fill="#801427"/>
<circle cx="80.7" cy="363.8" r="1.68" fill="#801427"/>
<circle cx="83.4" cy="363.8" r="1.68" fill="#801427"/>
<circle cx="87.6" cy="362.4" r="1.68" fill="#801427"/>
<circle cx="76" cy="369.6" r="1.68" fill="#801427"/>
<circle cx="83.4" cy="368" r="1.68" fill="#801427"/>
<circle cx="88.1" cy="366.5" r="1.68" fill="#801427"/>
<path d="M43.9,349.5H57.699999999999996M47.3,333.9H54.3M47.3,364.9H54.3M50.8,333.9V364.9" stroke="#0c0c0c" stroke-width="0.95" fill="none"/>
<path d="M74.69999999999999,365.4H88.5M78.1,363.6H85.1M78.1,367.4H85.1M81.6,363.6V367.4" stroke="#0c0c0c" stroke-width="0.95" fill="none"/>
<path d="M50.8,317.4V313.4H81.6V357.2" stroke="#1c1c1c" stroke-width="0.9" fill="none"/>
<circle cx="66.20" cy="308.80" r="1.1" fill="#1c1c1c"/>
<path d="M142.9,306.6V384.7" stroke="#151515" stroke-width="1.25" fill="none"/>
<path d="M142.35,384.7H202.9" stroke="#151515" stroke-width="1.25" fill="none"/>
<path d="M139.9,384.70H142.9" stroke="#1c1c1c" stroke-width="0.9"/>
<text x="136.10" y="387.40" font-size="7.6" text-anchor="end" fill="#1c1c1c">0.0</text>
<path d="M139.9,359.63H142.9" stroke="#1c1c1c" stroke-width="0.9"/>
<text x="136.10" y="362.33" font-size="7.6" text-anchor="end" fill="#1c1c1c">0.5</text>
<path d="M139.9,334.57H142.9" stroke="#1c1c1c" stroke-width="0.9"/>
<text x="136.10" y="337.27" font-size="7.6" text-anchor="end" fill="#1c1c1c">1.0</text>
<path d="M139.9,309.50H142.9" stroke="#1c1c1c" stroke-width="0.9"/>
<text x="136.10" y="312.20" font-size="7.6" text-anchor="end" fill="#1c1c1c">1.5</text>
<path d="M157.1,384.7V387.7" stroke="#1c1c1c" stroke-width="0.9"/>
<path d="M187.9,384.7V387.7" stroke="#1c1c1c" stroke-width="0.9"/>
<g transform="translate(118.84,384.40) rotate(-90)" font-size="8.8" fill="#1c1c1c" style="stroke-width:0.3px"><text x="0" y="0" textLength="32.2" lengthAdjust="spacingAndGlyphs">Cell counts</text><text x="34.20" y="0" textLength="43.6" lengthAdjust="spacingAndGlyphs">(×1000/mm3)</text></g>
<text x="157.10" y="397.70" font-size="8.4" text-anchor="middle" textLength="20.2" lengthAdjust="spacingAndGlyphs" fill="#1c1c1c">CTRL</text>
<text x="173.00" y="397.70" font-size="8.4" font-style="italic" textLength="21.2" lengthAdjust="spacingAndGlyphs" fill="#1c1c1c">Dnm2</text>
<text x="194.80" y="394.00" font-size="5.6" font-style="italic" fill="#1c1c1c" style="stroke-width:0.05px">het</text>
<rect x="155.47" y="318.57" width="3.25" height="3.25" fill="#182060"/>
<rect x="155.47" y="323.57" width="3.25" height="3.25" fill="#182060"/>
<rect x="155.47" y="341.48" width="3.25" height="3.25" fill="#182060"/>
<rect x="152.18" y="350.48" width="3.25" height="3.25" fill="#182060"/>
<rect x="158.68" y="351.68" width="3.25" height="3.25" fill="#182060"/>
<rect x="155.47" y="361.18" width="3.25" height="3.25" fill="#182060"/>
<rect x="152.18" y="367.88" width="3.25" height="3.25" fill="#182060"/>
<rect x="158.68" y="366.77" width="3.25" height="3.25" fill="#182060"/>
<circle cx="187.9" cy="360.2" r="1.68" fill="#801427"/>
<circle cx="185" cy="364.3" r="1.68" fill="#801427"/>
<circle cx="190.8" cy="364.3" r="1.68" fill="#801427"/>
<circle cx="182.1" cy="368.4" r="1.68" fill="#801427"/>
<circle cx="187.9" cy="369.5" r="1.68" fill="#801427"/>
<circle cx="182.1" cy="371.8" r="1.68" fill="#801427"/>
<circle cx="193.7" cy="371.6" r="1.68" fill="#801427"/>
<path d="M150.2,349.2H164.0M153.6,332.2H160.6M153.6,366H160.6M157.1,332.2V366" stroke="#0c0c0c" stroke-width="0.95" fill="none"/>
<path d="M181.0,367.8H194.8M184.4,365.4H191.4M184.4,370.2H191.4M187.9,365.4V370.2" stroke="#0c0c0c" stroke-width="0.95" fill="none"/>
<path d="M157.1,315.9V311.2H187.9V355.6" stroke="#1c1c1c" stroke-width="0.9" fill="none"/>
<circle cx="172.50" cy="307.10" r="1.1" fill="#1c1c1c"/>
<path d="M251.8,306.6V384.7" stroke="#151515" stroke-width="1.25" fill="none"/>
<path d="M251.25,384.7H311.8" stroke="#151515" stroke-width="1.25" fill="none"/>
<path d="M248.8,384.70H251.8" stroke="#1c1c1c" stroke-width="0.9"/>
<text x="245.00" y="387.40" font-size="7.6" text-anchor="end" fill="#1c1c1c">0.0</text>
<path d="M248.8,359.63H251.8" stroke="#1c1c1c" stroke-width="0.9"/>
<text x="245.00" y="362.33" font-size="7.6" text-anchor="end" fill="#1c1c1c">0.1</text>
<path d="M248.8,334.57H251.8" stroke="#1c1c1c" stroke-width="0.9"/>
<text x="245.00" y="337.27" font-size="7.6" text-anchor="end" fill="#1c1c1c">0.2</text>
<path d="M248.8,309.50H251.8" stroke="#1c1c1c" stroke-width="0.9"/>
<text x="245.00" y="312.20" font-size="7.6" text-anchor="end" fill="#1c1c1c">0.3</text>
<path d="M265.9,384.7V387.7" stroke="#1c1c1c" stroke-width="0.9"/>
<path d="M296.8,384.7V387.7" stroke="#1c1c1c" stroke-width="0.9"/>
<g transform="translate(227.74,384.40) rotate(-90)" font-size="8.8" fill="#1c1c1c" style="stroke-width:0.3px"><text x="0" y="0" textLength="32.2" lengthAdjust="spacingAndGlyphs">Cell counts</text><text x="34.20" y="0" textLength="43.6" lengthAdjust="spacingAndGlyphs">(×1000/mm3)</text></g>
<text x="265.90" y="397.70" font-size="8.4" text-anchor="middle" textLength="20.2" lengthAdjust="spacingAndGlyphs" fill="#1c1c1c">CTRL</text>
<text x="281.90" y="397.70" font-size="8.4" font-style="italic" textLength="21.2" lengthAdjust="spacingAndGlyphs" fill="#1c1c1c">Dnm2</text>
<text x="303.70" y="394.00" font-size="5.6" font-style="italic" fill="#1c1c1c" style="stroke-width:0.05px">het</text>
<rect x="264.27" y="322.77" width="3.25" height="3.25" fill="#182060"/>
<rect x="264.27" y="342.77" width="3.25" height="3.25" fill="#182060"/>
<rect x="261.27" y="349.98" width="3.25" height="3.25" fill="#182060"/>
<rect x="267.27" y="349.98" width="3.25" height="3.25" fill="#182060"/>
<rect x="258.57" y="355.48" width="3.25" height="3.25" fill="#182060"/>
<rect x="264.27" y="355.27" width="3.25" height="3.25" fill="#182060"/>
<rect x="270.18" y="357.77" width="3.25" height="3.25" fill="#182060"/>
<rect x="264.27" y="360.68" width="3.25" height="3.25" fill="#182060"/>
<rect x="264.27" y="368.07" width="3.25" height="3.25" fill="#182060"/>
<circle cx="293.9" cy="349.9" r="1.68" fill="#801427"/>
<circle cx="299.9" cy="347.3" r="1.68" fill="#801427"/>
<circle cx="293.9" cy="364.7" r="1.68" fill="#801427"/>
<circle cx="299.7" cy="364.7" r="1.68" fill="#801427"/>
<circle cx="293.9" cy="369.7" r="1.68" fill="#801427"/>
<circle cx="293.9" cy="374.5" r="1.68" fill="#801427"/>
<circle cx="299.7" cy="372.8" r="1.68" fill="#801427"/>
<path d="M259.0,353.4H272.79999999999995M262.4,340.5H269.4M262.4,366.4H269.4M265.9,340.5V366.4" stroke="#0c0c0c" stroke-width="0.95" fill="none"/>
<path d="M289.90000000000003,363.5H303.7M293.3,352.5H300.3M293.3,374.5H300.3M296.8,352.5V374.5" stroke="#0c0c0c" stroke-width="0.95" fill="none"/>
<path d="M356.0,306.6V384.7" stroke="#151515" stroke-width="1.25" fill="none"/>
<path d="M355.45,384.7H416.0" stroke="#151515" stroke-width="1.25" fill="none"/>
<path d="M353.0,384.70H356.0" stroke="#1c1c1c" stroke-width="0.9"/>
<text x="349.20" y="387.40" font-size="7.6" text-anchor="end" fill="#1c1c1c">0.0</text>
<path d="M353.0,365.90H356.0" stroke="#1c1c1c" stroke-width="0.9"/>
<text x="349.20" y="368.60" font-size="7.6" text-anchor="end" fill="#1c1c1c">0.5</text>
<path d="M353.0,347.10H356.0" stroke="#1c1c1c" stroke-width="0.9"/>
<text x="349.20" y="349.80" font-size="7.6" text-anchor="end" fill="#1c1c1c">1.0</text>
<path d="M353.0,328.30H356.0" stroke="#1c1c1c" stroke-width="0.9"/>
<text x="349.20" y="331.00" font-size="7.6" text-anchor="end" fill="#1c1c1c">1.5</text>
<path d="M353.0,309.50H356.0" stroke="#1c1c1c" stroke-width="0.9"/>
<text x="349.20" y="312.20" font-size="7.6" text-anchor="end" fill="#1c1c1c">2.0</text>
<path d="M370.1,384.7V387.7" stroke="#1c1c1c" stroke-width="0.9"/>
<path d="M401.0,384.7V387.7" stroke="#1c1c1c" stroke-width="0.9"/>
<g transform="translate(331.94,384.40) rotate(-90)" font-size="8.8" fill="#1c1c1c" style="stroke-width:0.3px"><text x="0" y="0" textLength="32.2" lengthAdjust="spacingAndGlyphs">Cell counts</text><text x="34.20" y="0" textLength="43.6" lengthAdjust="spacingAndGlyphs">(×1000/mm3)</text></g>
<text x="370.10" y="397.70" font-size="8.4" text-anchor="middle" textLength="20.2" lengthAdjust="spacingAndGlyphs" fill="#1c1c1c">CTRL</text>
<text x="386.10" y="397.70" font-size="8.4" font-style="italic" textLength="21.2" lengthAdjust="spacingAndGlyphs" fill="#1c1c1c">Dnm2</text>
<text x="407.90" y="394.00" font-size="5.6" font-style="italic" fill="#1c1c1c" style="stroke-width:0.05px">het</text>
<rect x="368.48" y="329.77" width="3.25" height="3.25" fill="#182060"/>
<rect x="368.48" y="333.18" width="3.25" height="3.25" fill="#182060"/>
<rect x="368.48" y="348.68" width="3.25" height="3.25" fill="#182060"/>
<rect x="362.77" y="352.68" width="3.25" height="3.25" fill="#182060"/>
<rect x="368.48" y="354.27" width="3.25" height="3.25" fill="#182060"/>
<rect x="374.68" y="353.68" width="3.25" height="3.25" fill="#182060"/>
<rect x="368.48" y="363.27" width="3.25" height="3.25" fill="#182060"/>
<rect x="365.77" y="366.98" width="3.25" height="3.25" fill="#182060"/>
<rect x="371.77" y="366.48" width="3.25" height="3.25" fill="#182060"/>
<circle cx="394.7" cy="368.4" r="1.68" fill="#801427"/>
<circle cx="398.4" cy="365.4" r="1.68" fill="#801427"/>
<circle cx="403.2" cy="364.9" r="1.68" fill="#801427"/>
<circle cx="406.4" cy="369.7" r="1.68" fill="#801427"/>
<circle cx="395.2" cy="371.8" r="1.68" fill="#801427"/>
<circle cx="401.1" cy="370.7" r="1.68" fill="#801427"/>
<path d="M363.20000000000005,353.5H377.0M366.6,340.2H373.6M366.6,366H373.6M370.1,340.2V366" stroke="#0c0c0c" stroke-width="0.95" fill="none"/>
<path d="M394.1,368.6H407.9M397.5,366.6H404.5M397.5,370.6H404.5M401.0,366.6V370.6" stroke="#0c0c0c" stroke-width="0.95" fill="none"/>
<path d="M370.1,327.5V322.4H401.0V359.6" stroke="#1c1c1c" stroke-width="0.9" fill="none"/>
<circle cx="385.55" cy="318.20" r="1.1" fill="#1c1c1c"/>
<path d="M459.9,306.6V384.7" stroke="#151515" stroke-width="1.25" fill="none"/>
<path d="M459.34999999999997,384.7H519.9" stroke="#151515" stroke-width="1.25" fill="none"/>
<path d="M456.9,384.70H459.9" stroke="#1c1c1c" stroke-width="0.9"/>
<text x="453.10" y="387.40" font-size="7.6" text-anchor="end" fill="#1c1c1c">0</text>
<path d="M456.9,365.90H459.9" stroke="#1c1c1c" stroke-width="0.9"/>
<text x="453.10" y="368.60" font-size="7.6" text-anchor="end" fill="#1c1c1c">1</text>
<path d="M456.9,347.10H459.9" stroke="#1c1c1c" stroke-width="0.9"/>
<text x="453.10" y="349.80" font-size="7.6" text-anchor="end" fill="#1c1c1c">2</text>
<path d="M456.9,328.30H459.9" stroke="#1c1c1c" stroke-width="0.9"/>
<text x="453.10" y="331.00" font-size="7.6" text-anchor="end" fill="#1c1c1c">3</text>
<path d="M456.9,309.50H459.9" stroke="#1c1c1c" stroke-width="0.9"/>
<text x="453.10" y="312.20" font-size="7.6" text-anchor="end" fill="#1c1c1c">4</text>
<path d="M474.1,384.7V387.7" stroke="#1c1c1c" stroke-width="0.9"/>
<path d="M504.8,384.7V387.7" stroke="#1c1c1c" stroke-width="0.9"/>
<g transform="translate(442.17,384.40) rotate(-90)" font-size="8.8" fill="#1c1c1c" style="stroke-width:0.3px"><text x="0" y="0" textLength="32.2" lengthAdjust="spacingAndGlyphs">Cell counts</text><text x="34.20" y="0" textLength="43.6" lengthAdjust="spacingAndGlyphs">(×1000/mm3)</text></g>
<text x="474.10" y="397.70" font-size="8.4" text-anchor="middle" textLength="20.2" lengthAdjust="spacingAndGlyphs" fill="#1c1c1c">CTRL</text>
<text x="489.90" y="397.70" font-size="8.4" font-style="italic" textLength="21.2" lengthAdjust="spacingAndGlyphs" fill="#1c1c1c">Dnm2</text>
<text x="511.70" y="394.00" font-size="5.6" font-style="italic" fill="#1c1c1c" style="stroke-width:0.05px">het</text>
<rect x="471.98" y="322.38" width="3.25" height="3.25" fill="#182060"/>
<rect x="475.77" y="326.68" width="3.25" height="3.25" fill="#182060"/>
<rect x="469.07" y="329.57" width="3.25" height="3.25" fill="#182060"/>
<rect x="472.48" y="346.48" width="3.25" height="3.25" fill="#182060"/>
<rect x="472.48" y="352.77" width="3.25" height="3.25" fill="#182060"/>
<rect x="472.48" y="358.07" width="3.25" height="3.25" fill="#182060"/>
<rect x="469.07" y="362.07" width="3.25" height="3.25" fill="#182060"/>
<rect x="475.48" y="362.07" width="3.25" height="3.25" fill="#182060"/>
<rect x="472.48" y="364.98" width="3.25" height="3.25" fill="#182060"/>
<circle cx="504.8" cy="358.5" r="1.68" fill="#801427"/>
<circle cx="499.1" cy="362.6" r="1.68" fill="#801427"/>
<circle cx="502.8" cy="361.4" r="1.68" fill="#801427"/>
<circle cx="510.7" cy="362.6" r="1.68" fill="#801427"/>
<circle cx="504.8" cy="364.3" r="1.68" fill="#801427"/>
<circle cx="504.8" cy="367.8" r="1.68" fill="#801427"/>
<circle cx="504.8" cy="371.6" r="1.68" fill="#801427"/>
<path d="M467.20000000000005,348.9H481.0M470.6,332.2H477.6M470.6,364.9H477.6M474.1,332.2V364.9" stroke="#0c0c0c" stroke-width="0.95" fill="none"/>
<path d="M497.90000000000003,363.7H511.7M501.3,359.7H508.3M501.3,368.4H508.3M504.8,359.7V368.4" stroke="#0c0c0c" stroke-width="0.95" fill="none"/>
<path d="M474.1,319.6V315.4H504.8V353.3" stroke="#1c1c1c" stroke-width="0.9" fill="none"/>
<circle cx="489.45" cy="310.80" r="1.1" fill="#1c1c1c"/>
<path d="M130.4,451.1V487.3M130.4,493.4V502.0" stroke="#151515" stroke-width="1.25" fill="none"/>
<path d="M128.20000000000002,489.3L132.70000000000002,485.3M128.20000000000002,495.4L132.70000000000002,491.4" stroke="#1c1c1c" stroke-width="0.9" fill="none"/>
<path d="M129.85,502.0H193.8" stroke="#151515" stroke-width="1.25" fill="none"/>
<path d="M127.4,501.80H130.4" stroke="#1c1c1c" stroke-width="0.9"/>
<text x="123.60" y="503.80" font-size="7.6" text-anchor="end" fill="#1c1c1c">0</text>
<text x="123.60" y="489.00" font-size="7.6" text-anchor="end" fill="#1c1c1c">10</text>
<path d="M127.4,470.00H130.4" stroke="#1c1c1c" stroke-width="0.9"/>
<text x="123.60" y="472.00" font-size="7.6" text-anchor="end" fill="#1c1c1c">12</text>
<path d="M127.4,454.20H130.4" stroke="#1c1c1c" stroke-width="0.9"/>
<text x="123.60" y="456.20" font-size="7.6" text-anchor="end" fill="#1c1c1c">14</text>
<path d="M148.2,502.0V505.0" stroke="#1c1c1c" stroke-width="0.9"/>
<path d="M178.3,502.0V505.0" stroke="#1c1c1c" stroke-width="0.9"/>
<text transform="translate(107.80,477.55) rotate(-90)" font-size="8.0" text-anchor="middle" textLength="55" lengthAdjust="spacingAndGlyphs" fill="#1c1c1c" style="stroke-width:0.3px">Hemoglobin (g/dL)</text>
<text x="148.20" y="515.00" font-size="8.4" text-anchor="middle" textLength="20.2" lengthAdjust="spacingAndGlyphs" fill="#1c1c1c">CTRL</text>
<text x="163.40" y="515.00" font-size="8.4" font-style="italic" textLength="21.2" lengthAdjust="spacingAndGlyphs" fill="#1c1c1c">Dnm2</text>
<text x="185.20" y="511.30" font-size="5.6" font-style="italic" fill="#1c1c1c" style="stroke-width:0.05px">het</text>
<rect x="139.20" y="460.70" width="2.8" height="2.8" fill="#182060"/>
<rect x="144.30" y="462.85" width="2.8" height="2.8" fill="#182060"/>
<rect x="149.60" y="462.40" width="2.8" height="2.8" fill="#182060"/>
<rect x="139.20" y="467.90" width="2.8" height="2.8" fill="#182060"/>
<rect x="144.30" y="465.70" width="2.8" height="2.8" fill="#182060"/>
<rect x="144.30" y="469.10" width="2.8" height="2.8" fill="#182060"/>
<rect x="149.60" y="468.10" width="2.8" height="2.8" fill="#182060"/>
<rect x="154.60" y="466.50" width="2.8" height="2.8" fill="#182060"/>
<rect x="154.60" y="470.10" width="2.8" height="2.8" fill="#182060"/>
<rect x="146.90" y="472.90" width="2.8" height="2.8" fill="#182060"/>
<circle cx="175.7" cy="468.4" r="1.45" fill="#801427"/>
<circle cx="181" cy="468.4" r="1.45" fill="#801427"/>
<circle cx="175.2" cy="476.5" r="1.45" fill="#801427"/>
<circle cx="181" cy="476.5" r="1.45" fill="#801427"/>
<circle cx="178.2" cy="481.8" r="1.45" fill="#801427"/>
<path d="M139.2,468.3H157.2M143.89999999999998,466.6H152.5M143.89999999999998,470.0H152.5M148.2,466.6V470.0" stroke="#0c0c0c" stroke-width="0.95" fill="none"/>
<path d="M169.3,474.4H187.3M174.0,472.0H182.60000000000002M174.0,476.8H182.60000000000002M178.3,472.0V476.8" stroke="#0c0c0c" stroke-width="0.95" fill="none"/>
<path d="M148.2,456.4V450.9H178.3V462.8" stroke="#1c1c1c" stroke-width="0.9" fill="none"/>
<circle cx="163.25" cy="446.90" r="1.1" fill="#1c1c1c"/>
<path d="M239.4,451.0V487.3M239.4,493.4V502.0" stroke="#151515" stroke-width="1.25" fill="none"/>
<path d="M237.20000000000002,489.3L241.70000000000002,485.3M237.20000000000002,495.4L241.70000000000002,491.4" stroke="#1c1c1c" stroke-width="0.9" fill="none"/>
<path d="M238.85,502.0H305.1" stroke="#151515" stroke-width="1.25" fill="none"/>
<path d="M236.4,501.80H239.4" stroke="#1c1c1c" stroke-width="0.9"/>
<text x="232.60" y="503.80" font-size="7.6" text-anchor="end" fill="#1c1c1c">0</text>
<text x="232.60" y="489.00" font-size="7.6" text-anchor="end" fill="#1c1c1c">10</text>
<path d="M236.4,470.20H239.4" stroke="#1c1c1c" stroke-width="0.9"/>
<text x="232.60" y="472.20" font-size="7.6" text-anchor="end" fill="#1c1c1c">12</text>
<path d="M236.4,454.00H239.4" stroke="#1c1c1c" stroke-width="0.9"/>
<text x="232.60" y="456.00" font-size="7.6" text-anchor="end" fill="#1c1c1c">14</text>
<path d="M257.0,502.0V505.0" stroke="#1c1c1c" stroke-width="0.9"/>
<path d="M287.0,502.0V505.0" stroke="#1c1c1c" stroke-width="0.9"/>
<text transform="translate(216.50,477.50) rotate(-90)" font-size="8.0" text-anchor="middle" textLength="55" lengthAdjust="spacingAndGlyphs" fill="#1c1c1c" style="stroke-width:0.3px">Hemoglobin (g/dL)</text>
<text x="257.00" y="515.00" font-size="8.4" text-anchor="middle" textLength="20.2" lengthAdjust="spacingAndGlyphs" fill="#1c1c1c">CTRL</text>
<text x="272.10" y="515.00" font-size="8.4" font-style="italic" textLength="21.2" lengthAdjust="spacingAndGlyphs" fill="#1c1c1c">Dnm2</text>
<text x="293.90" y="511.30" font-size="5.6" font-style="italic" fill="#1c1c1c" style="stroke-width:0.05px">het</text>
<circle cx="256.8" cy="467.9" r="1.50" fill="#182060"/>
<circle cx="250.8" cy="473.6" r="1.50" fill="#182060"/>
<circle cx="263.1" cy="473.6" r="1.50" fill="#182060"/>
<circle cx="256.8" cy="481.1" r="1.50" fill="#182060"/>
<circle cx="256.8" cy="473.6" r="1.50" fill="#182060"/>
<circle cx="284.1" cy="476.6" r="1.45" fill="#801427"/>
<circle cx="290" cy="478.1" r="1.45" fill="#801427"/>
<circle cx="284" cy="485.6" r="1.45" fill="#801427"/>
<circle cx="290" cy="485" r="1.45" fill="#801427"/>
<circle cx="286.5" cy="482.25" r="1.45" fill="#801427"/>
<path d="M248.0,473.6H266.0M252.7,471.4H261.3M252.7,476H261.3M257.0,471.4V476" stroke="#0c0c0c" stroke-width="0.95" fill="none"/>
<path d="M278.0,481.25H296.0M282.7,479.2H291.3M282.7,483.4H291.3M287.0,479.2V483.4" stroke="#0c0c0c" stroke-width="0.95" fill="none"/>
<path d="M257.0,461.9V456.5H287.0V471.25" stroke="#1c1c1c" stroke-width="0.9" fill="none"/>
<circle cx="272.00" cy="452.25" r="1.1" fill="#1c1c1c"/>
</svg>
</body></html>
